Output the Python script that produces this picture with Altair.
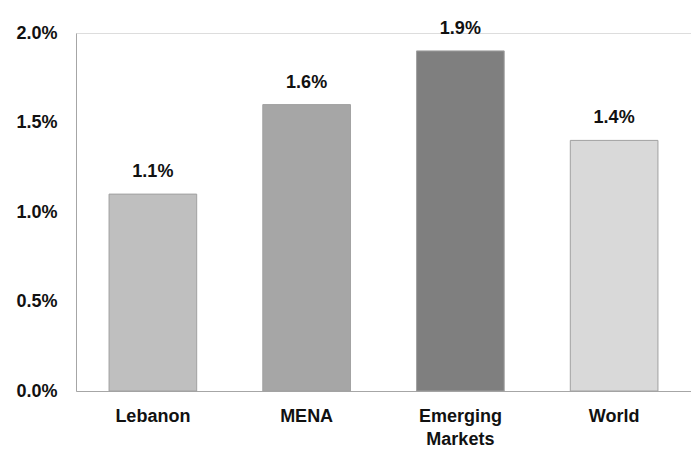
import altair as alt
import pandas as pd

regions = ["Lebanon", "MENA", "Emerging Markets", "World"]
values = [1.1, 1.6, 1.9, 1.4]
fills = ["#bfbfbf", "#a6a6a6", "#7f7f7f", "#d9d9d9"]

df = pd.DataFrame({
    "region": regions,
    "value": [v / 100 for v in values],
    "label": [f"{v:.1f}%" for v in values],
    "fill": fills,
})

FONT = "Liberation Sans"

base = alt.Chart(df).encode(
    x=alt.X(
        "region:N",
        sort=regions,
        scale=alt.Scale(paddingInner=0.43, paddingOuter=0.215),
        axis=alt.Axis(
            title=None,
            labelAngle=0,
            ticks=False,
            domainColor="#a6a6a6",
            labelFont=FONT,
            labelFontSize=18,
            labelFontWeight="bold",
            labelColor="#111111",
            labelPadding=16,
            labelLineHeight=23,
            labelBaseline="top",
            labelExpr="datum.label == 'Emerging Markets' ? ['Emerging', 'Markets'] : datum.label",
        ),
    ),
)

bars = base.mark_bar(stroke="#a0a0a0", strokeWidth=1).encode(
    y=alt.Y(
        "value:Q",
        scale=alt.Scale(domain=[0, 0.02], nice=False),
        axis=alt.Axis(
            title=None,
            format=".1%",
            values=[0, 0.005, 0.01, 0.015, 0.02],
            ticks=False,
            grid=False,
            domainColor="#a6a6a6",
            labelFont=FONT,
            labelFontSize=18,
            labelFontWeight="bold",
            labelColor="#111111",
            labelPadding=19,
        ),
    ),
    fill=alt.Fill("fill:N", scale=None),
)

texts = base.mark_text(
    font=FONT, fontSize=18, fontWeight="bold", color="#111111",
    baseline="bottom", dy=-13,
).encode(
    y="value:Q",
    text="label:N",
)

chart = (
    (bars + texts)
    .properties(
        width=615,
        height=358,
        autosize=alt.AutoSizeParams(type="none"),
        padding={"left": 76, "top": 33, "right": 0, "bottom": 62},
    )
    .configure_view(stroke=None)
    .configure(background="white")
)

chart.save("out.html", embed_options={"renderer": "svg", "actions": False})
